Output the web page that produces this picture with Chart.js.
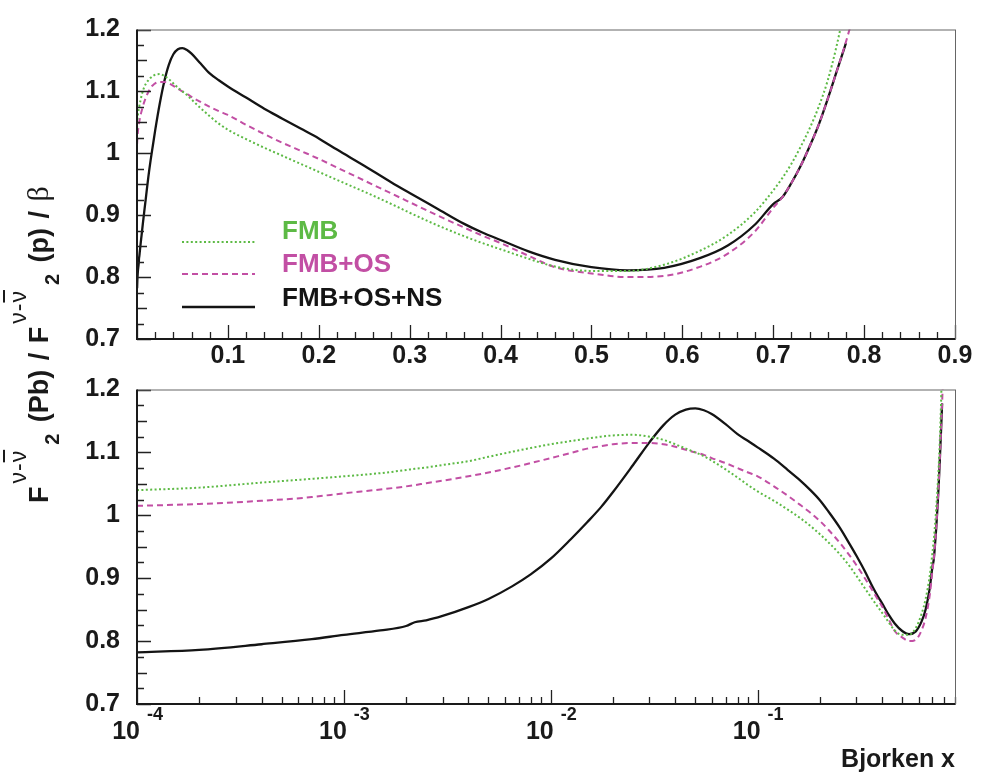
<!DOCTYPE html>
<html>
<head>
<meta charset="utf-8">
<script src="https://cdn.jsdelivr.net/npm/chart.js@4/dist/chart.umd.min.js"></script>
<style>
  body { margin: 0; background: #fff; }
  #page { position: relative; width: 992px; height: 779px; overflow: hidden; background: #fff; }
  canvas { position: absolute; left: 0; }
  #top { top: 0; }
  #bottom { top: 360px; }
  #ytitle {
    position: absolute; left: 23px; top: 503px;
    transform-origin: 0 0; transform: rotate(-90deg);
    font: bold 27px 'Liberation Sans', Arial, sans-serif; line-height: 30px;
    white-space: nowrap; color: #1a1a1a; word-spacing: 2px;
  }
  #ytitle .sup { font-weight: normal; font-size: 23px; position: relative; top: -22px; margin-left: 3px; letter-spacing: 1px; }
  #ytitle .sub { font-size: 20px; position: relative; top: 11px; margin-left: 5px; margin-right: 2px; }
  #ytitle .bar { text-decoration: overline; }
  #ytitle .beta { font-weight: normal; font-family: 'Liberation Serif', serif; font-size: 30px; }
</style>
</head>
<body>
<div id="page">
  <canvas id="top" width="992" height="380"></canvas>
  <canvas id="bottom" width="992" height="419"></canvas>
  <div id="ytitle">F<span class="sup">ν-<span class="bar">ν</span></span><span class="sub">2</span> (Pb) / F<span class="sup">ν-<span class="bar">ν</span></span><span class="sub">2</span> (p) / <span class="beta">β</span></div>
</div>
<script>
// Bjorken x grid shared by the three curves
const xs = [1e-4, 2e-4, 4e-4, 7e-4, 1e-3, 1.5e-3, 2e-3, 2.2e-3, 2.5e-3, 3e-3,
  4e-3, 5e-3, 6.5e-3, 8e-3, 0.01, 0.0125, 0.015, 0.0175, 0.02, 0.025,
  0.03, 0.035, 0.04, 0.045, 0.05, 0.055, 0.06, 0.07, 0.08, 0.09,
  0.1, 0.12, 0.14, 0.16, 0.18, 0.2, 0.22, 0.25, 0.28, 0.3,
  0.33, 0.36, 0.38, 0.4, 0.43, 0.46, 0.5, 0.54, 0.58, 0.62,
  0.65, 0.68, 0.7, 0.71, 0.72, 0.73, 0.74, 0.75, 0.76, 0.77,
  0.78, 0.79];

const fmb = [1.040, 1.044, 1.052, 1.058, 1.062, 1.067, 1.072, 1.074, 1.076, 1.080,
  1.086, 1.093, 1.101, 1.107, 1.113, 1.118, 1.122, 1.125, 1.127, 1.128,
  1.125, 1.120, 1.113, 1.106, 1.100, 1.094, 1.087, 1.073, 1.060, 1.048,
  1.038, 1.023, 1.009, 0.996, 0.983, 0.970, 0.957, 0.938, 0.918, 0.904,
  0.884, 0.866, 0.855, 0.845, 0.830, 0.817, 0.810, 0.810, 0.820, 0.843,
  0.868, 0.905, 0.940, 0.960, 0.983, 1.010, 1.040, 1.075, 1.118, 1.175,
  1.245, null];

const fmbOs = [1.015, 1.018, 1.023, 1.029, 1.035, 1.041, 1.046, 1.048, 1.051, 1.055,
  1.062, 1.068, 1.076, 1.083, 1.091, 1.099, 1.106, 1.110, 1.113, 1.115,
  1.115, 1.113, 1.109, 1.104, 1.100, 1.096, 1.091, 1.083, 1.075, 1.068,
  1.062, 1.046, 1.031, 1.017, 1.004, 0.991, 0.977, 0.956, 0.935, 0.921,
  0.900, 0.880, 0.867, 0.855, 0.835, 0.816, 0.806, 0.800, 0.802, 0.817,
  0.838, 0.874, 0.912, 0.929, 0.952, 0.979, 1.011, 1.046, 1.088, 1.133,
  1.180, 1.232];

const fmbOsNs = [0.782, 0.786, 0.795, 0.803, 0.810, 0.817, 0.824, 0.830, 0.833, 0.840,
  0.854, 0.867, 0.887, 0.906, 0.931, 0.962, 0.989, 1.013, 1.037, 1.080,
  1.116, 1.143, 1.160, 1.168, 1.170, 1.167, 1.161, 1.145, 1.129, 1.118,
  1.108, 1.090, 1.072, 1.056, 1.040, 1.024, 1.006, 0.980, 0.953, 0.936,
  0.911, 0.886, 0.872, 0.860, 0.842, 0.828, 0.816, 0.811, 0.815, 0.831,
  0.851, 0.885, 0.918, 0.929, 0.952, 0.979, 1.011, 1.046, 1.088, 1.133,
  1.178, null];

const seriesNames = ['FMB', 'FMB+OS', 'FMB+OS+NS'];
const seriesColors = ['#5dba45', '#c24fa4', '#141414'];
const seriesDash = [[2, 2.4], [6, 4], []];
const decades = [1e-4, 1e-3, 1e-2, 1e-1];
const decadeExp = ['-4', '-3', '-2', '-1'];

const FONT = "'Liberation Sans', Arial, sans-serif";
const fmt = v => String(Number(v.toFixed(2)));

function makeDatasets() {
  return [fmb, fmbOs, fmbOsNs].map((vals, i) => ({
    label: seriesNames[i],
    data: xs.map((x, k) => ({ x: x, y: vals[k] })),
    borderColor: seriesColors[i],
    borderWidth: i === 2 ? 2.3 : 2,
    borderDash: seriesDash[i],
    pointRadius: 0,
    cubicInterpolationMode: 'monotone',
    spanGaps: false,
    clip: 0
  }));
}

// ROOT style frame: ticks pointing inwards, box round the pad
function frameTicks(isLog) {
  return {
    id: 'frameTicks',
    afterDatasetsDraw(chart) {
      const { ctx, chartArea: a, scales: { x, y } } = chart;
      ctx.save();
      ctx.strokeStyle = '#222';
      ctx.lineWidth = 1.3;
      ctx.beginPath();
      for (let k = 0; k <= 20; k++) {
        const v = 0.7 + k * 0.025;
        const py = Math.round(y.getPixelForValue(v)) + 0.5;
        const len = k % 4 === 0 ? 14 : (k % 2 === 0 ? 10 : 7);
        ctx.moveTo(a.left, py);
        ctx.lineTo(a.left + len, py);
      }
      if (isLog) {
        for (let e = -4; e <= -1; e++) {
          for (let m = 1; m <= 9; m++) {
            const v = m * Math.pow(10, e);
            if (v > x.max) continue;
            const px = Math.round(x.getPixelForValue(v)) + 0.5;
            ctx.moveTo(px, a.bottom);
            ctx.lineTo(px, a.bottom - (m === 1 ? 14 : 7));
          }
        }
      } else {
        for (let k = 0; k <= 45; k++) {
          const px = Math.round(x.getPixelForValue(k * 0.02)) + 0.5;
          ctx.moveTo(px, a.bottom);
          ctx.lineTo(px, a.bottom - (k % 5 === 0 ? 14 : 7));
        }
      }
      ctx.stroke();

      ctx.lineWidth = 1;
      ctx.strokeStyle = '#666';
      ctx.strokeRect(a.left + 0.5, a.top + 0.5, a.right - a.left, a.bottom - a.top);
      ctx.lineWidth = 2;
      ctx.strokeStyle = '#1a1a1a';
      ctx.beginPath();
      ctx.moveTo(a.left, a.top);
      ctx.lineTo(a.left, a.bottom);
      ctx.lineTo(a.right, a.bottom);
      ctx.stroke();
      ctx.restore();
    }
  };
}

const legendBox = {
  id: 'legendBox',
  afterDraw(chart) {
    const ctx = chart.ctx;
    const lineY = [242, 274, 307];
    const textY = [232, 265, 299];
    ctx.save();
    ctx.font = 'bold 26px ' + FONT;
    ctx.textBaseline = 'middle';
    seriesNames.forEach((name, i) => {
      ctx.strokeStyle = seriesColors[i];
      ctx.lineWidth = i === 2 ? 2.3 : 2;
      ctx.setLineDash(seriesDash[i]);
      ctx.beginPath();
      ctx.moveTo(182, lineY[i]);
      ctx.lineTo(255, lineY[i]);
      ctx.stroke();
      ctx.fillStyle = seriesColors[i];
      ctx.fillText(name, 282, textY[i]);
    });
    ctx.restore();
  }
};

const logLabels = {
  id: 'logLabels',
  afterDraw(chart) {
    const ctx = chart.ctx;
    const x = chart.scales.x;
    ctx.save();
    ctx.fillStyle = '#1a1a1a';
    ctx.textBaseline = 'middle';
    decades.forEach((v, i) => {
      const px = x.getPixelForValue(v);
      ctx.font = 'bold 25px ' + FONT;
      ctx.textAlign = 'right';
      ctx.fillText('10', px + 3, 732 - 360);
      ctx.font = 'bold 18px ' + FONT;
      ctx.textAlign = 'left';
      ctx.fillText(decadeExp[i], px + 10, 715 - 360);
    });
    ctx.font = 'bold 25px ' + FONT;
    ctx.textAlign = 'right';
    ctx.fillText('Bjorken x', 955, 760 - 360);
    ctx.restore();
  }
};

const yAxis = {
  min: 0.7,
  max: 1.2,
  ticks: { stepSize: 0.1, callback: fmt, padding: 17, color: '#1a1a1a', font: { family: FONT, size: 25, weight: 'bold', lineHeight: 1 } },
  grid: { display: false, drawTicks: false },
  border: { display: false },
  afterFit: s => { s.width = 137; }
};

new Chart(document.getElementById('top'), {
  type: 'line',
  data: { datasets: makeDatasets() },
  options: {
    responsive: false,
    animation: false,
    events: [],
    layout: { padding: { top: 16, right: 37, left: 0, bottom: 0 } },
    plugins: { legend: { display: false }, tooltip: { enabled: false } },
    scales: {
      x: {
        type: 'linear',
        min: 0,
        max: 0.9,
        ticks: {
          stepSize: 0.1, autoSkip: false, maxRotation: 0, padding: 5, color: '#1a1a1a',
          callback: v => (v === 0 ? '' : fmt(v)),
          font: { family: FONT, size: 25, weight: 'bold', lineHeight: 1 }
        },
        grid: { display: false, drawTicks: false },
        border: { display: false },
        afterFit: s => { s.height = 41; }
      },
      y: yAxis
    }
  },
  plugins: [frameTicks(false), legendBox]
});

new Chart(document.getElementById('bottom'), {
  type: 'line',
  data: { datasets: makeDatasets() },
  options: {
    responsive: false,
    animation: false,
    events: [],
    layout: { padding: { top: 22, right: 37, left: 0, bottom: 0 } },
    plugins: { legend: { display: false }, tooltip: { enabled: false } },
    scales: {
      x: {
        type: 'logarithmic',
        min: 1e-4,
        max: 0.9,
        ticks: { display: false },
        afterBuildTicks: s => { s.ticks = decades.map(v => ({ value: v })); },
        grid: { display: false, drawTicks: false },
        border: { display: false },
        afterFit: s => { s.height = 75; }
      },
      y: Object.assign({}, yAxis)
    }
  },
  plugins: [frameTicks(true), logLabels]
});
</script>
</body>
</html>
